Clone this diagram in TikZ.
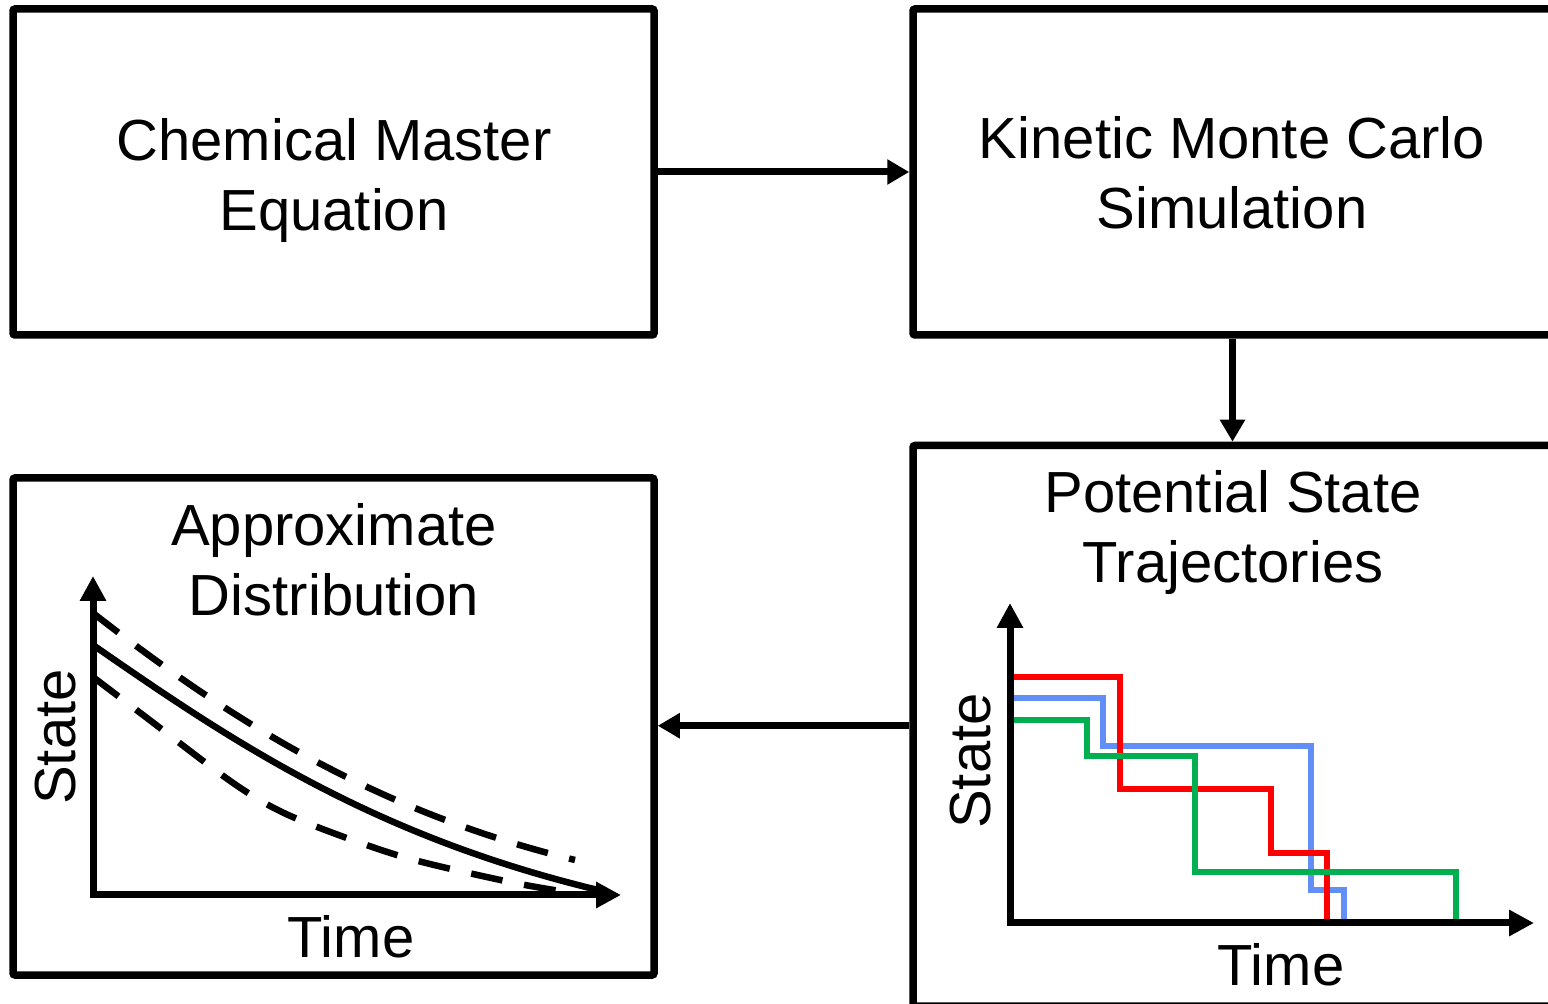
\documentclass[tikz,border=0pt]{standalone}
\usepackage{fontspec}
\setmainfont{Liberation Sans}
\usetikzlibrary{arrows.meta}
\definecolor{trred}{RGB}{255,0,0}
\definecolor{trblue}{RGB}{97,143,247}
\definecolor{trgreen}{RGB}{0,176,80}
\begin{document}
\begin{tikzpicture}[x=0.5pt,y=-0.5pt,
  box/.style={draw=black,line width=3.75pt,rectangle,rounded corners=1pt,inner sep=0pt,fill=none},
  lbl/.style={inner sep=0pt,font=\fontsize{29}{35}\selectfont,align=center},
  conn/.style={line width=3.5pt,-{Triangle[length=11pt,width=12pt]}},
  axis/.style={line width=3.5pt,{Triangle[length=12.5pt,width=12.5pt]}-{Triangle[length=12.5pt,width=12.5pt]},line join=miter},
  traj/.style={line width=3.25pt,line join=miter,line cap=butt},
  curve/.style={line width=3.25pt,line cap=butt},
  dcurve/.style={curve,dash pattern=on 16pt off 11pt}]
\useasboundingbox (0,0) rectangle (1548,1004);
\clip (0,0) rectangle (1548,1004);
% boxes
\node[box,minimum width=320.5pt,minimum height=163pt] (cme) at (333.5,172) {};
\node[box,minimum width=319.5pt,minimum height=163pt] (kmc) at (1232.5,172) {};
\node[box,minimum width=319.5pt,minimum height=280.25pt] (pst) at (1232.5,725.75) {};
\node[box,minimum width=320.5pt,minimum height=248.5pt] (apx) at (333.5,726.5) {};
% texts
\node[lbl,anchor=north] (tcme) at (334,118) {Chemical Master\\Equation};
\node[lbl,anchor=north] (tkmc) at (1232,116) {Kinetic Monte Carlo\\Simulation};
\node[lbl,anchor=north] (tpst) at (1233,470) {Potential State\\Trajectories};
\node[lbl,anchor=north] (tapx) at (334,503) {Approximate\\Distribution};
% connectors
\draw[conn] (cme.east) -- (kmc.west);
\draw[conn] (kmc.south) -- (pst.north);
\draw[conn] (pst.west) -- (pst.west -| apx.east);
% left plot
\draw[dcurve] (93,613) .. controls (225,716) and (370,810) .. (575,860);
\draw[dcurve] plot[smooth] coordinates {(93,677) (147,718) (236,785) (295,818) (400,856) (505,881) (560,891)};
\draw[curve] (93,645) .. controls (230,740) and (370,835) .. (598,890);
\coordinate (ay1) at (93,576);
\coordinate (ao1) at (93,895);
\coordinate (ax1) at (621,895);
\draw[axis] (ay1) -- (ao1) -- (ax1);
\node[lbl,anchor=north] (time1) at (351,915) {Time};
\node[lbl,rotate=90] (state1) at (56,737) {State};
% right plot
\draw[traj,trblue] (1010,698) -| (1103,746) -| (1311,890) -| (1344,923);
\draw[traj,trred] (1010,677) -| (1120,789) -| (1271,853) -| (1327,923);
\draw[traj,trgreen] (1010,720) -| (1087,756) -| (1195,872) -| (1456,923);
\coordinate (ay2) at (1010,603);
\coordinate (ao2) at (1010,923);
\coordinate (ax2) at (1534,923);
\draw[axis] (ay2) -- (ao2) -- (ax2);
\node[lbl,anchor=north] (time2) at (1281,943) {Time};
\node[lbl,rotate=90] (state2) at (970.5,761) {State};
\end{tikzpicture}
\end{document}
